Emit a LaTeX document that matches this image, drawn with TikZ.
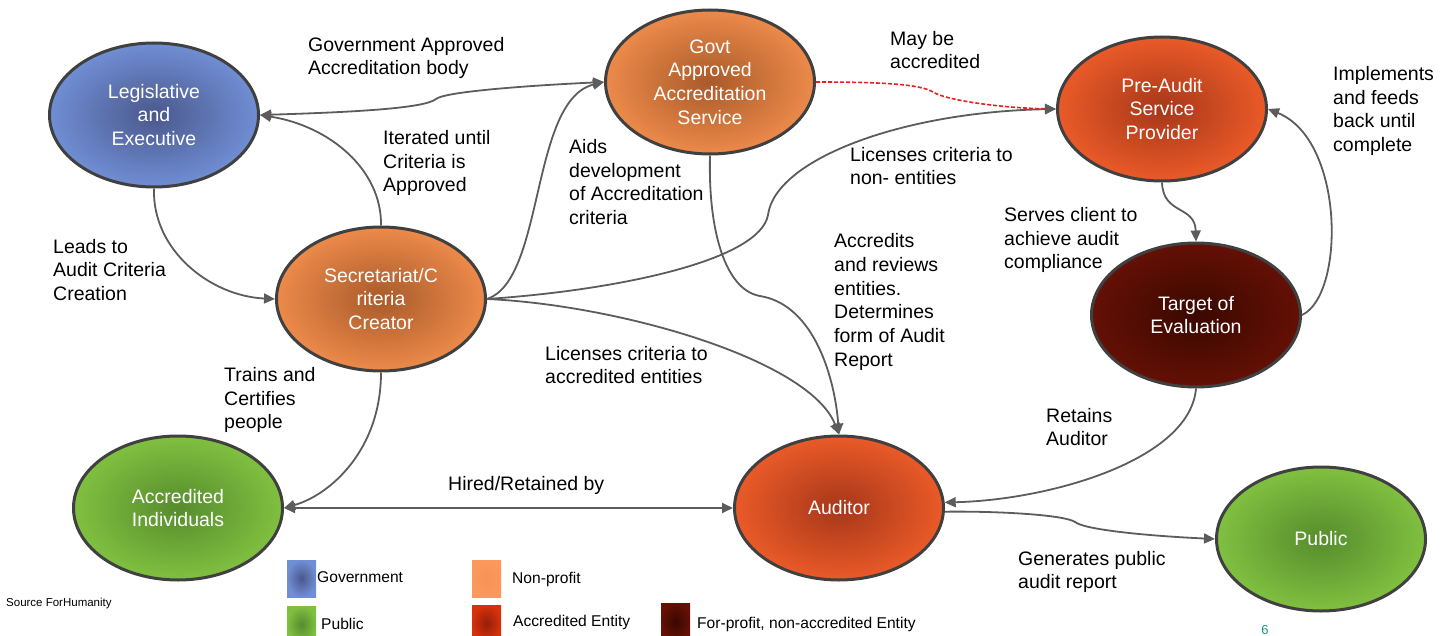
\documentclass[tikz,border=0pt]{standalone}
\usepackage{fontspec}
\setmainfont{Liberation Sans}
\usetikzlibrary{shapes.geometric,arrows.meta}
\definecolor{edgegray}{RGB}{92,92,92}
\definecolor{ovalline}{RGB}{64,64,64}
\definecolor{govout}{RGB}{112,142,212}
\definecolor{govin}{RGB}{74,88,140}
\definecolor{npout}{RGB}{236,138,74}
\definecolor{npin}{RGB}{168,90,42}
\definecolor{aeout}{RGB}{234,90,40}
\definecolor{aein}{RGB}{166,55,25}
\definecolor{fpout}{RGB}{100,16,5}
\definecolor{fpin}{RGB}{58,8,0}
\definecolor{puout}{RGB}{128,192,64}
\definecolor{puin}{RGB}{86,140,45}
\definecolor{dashred}{RGB}{235,30,30}
\definecolor{teal6}{RGB}{20,150,140}
\begin{document}
\begin{tikzpicture}[x=1pt,y=-1pt,
  every node/.style={font=\fontsize{19.5}{23.7}\selectfont},
  oval/.style={ellipse, draw=ovalline, line width=3pt, minimum width=209pt,
    minimum height=144pt, inner sep=0pt, align=center, text=white},
  govnode/.style={oval, inner color=govin, outer color=govout},
  npnode/.style={oval, inner color=npin, outer color=npout},
  aenode/.style={oval, inner color=aein, outer color=aeout},
  fpnode/.style={oval, inner color=fpin, outer color=fpout},
  punode/.style={oval, inner color=puin, outer color=puout},
  lbl/.style={anchor=west, align=left, inner sep=0pt, text=black},
  conn/.style={draw=edgegray, line width=1.8pt},
  >={Triangle[length=11pt,width=10pt]},
  legbox/.style={minimum width=29pt, minimum height=37pt, inner sep=0pt},
  legtxt/.style={anchor=west, inner sep=0pt, font=\fontsize{15.6}{18}\selectfont}
]
\useasboundingbox (0,0) rectangle (1450,636);

% ovals
\node[govnode] (leg) at (154,115) {Legislative\\and\\Executive};
\node[npnode] (govt) at (710,82) {Govt\\Approved\\Accreditation\\Service};
\node[aenode] (pre) at (1162,109) {Pre-Audit\\Service\\Provider};
\node[fpnode] (tgt) at (1196,315) {Target of\\Evaluation};
\node[npnode] (sec) at (381,299) {Secretariat/C\\riteria\\Creator};
\node[punode] (ai) at (178,508) {Accredited\\Individuals};
\node[aenode] (aud) at (839,508) {Auditor};
\node[punode] (pub) at (1321,539) {Public};

% connectors
\draw[conn,<->] (leg.east) .. controls (360,112) and (425,108) .. (436,99)
   .. controls (446,91) and (540,85) .. (govt.west);
\draw[conn,->] (leg.south) .. controls (152,250) and (210,296) .. (sec.west);
\draw[conn,->] (sec.north) .. controls (382,170) and (330,126) .. (leg.east);
\draw[conn,->] (sec.east) .. controls (545,280) and (530,100) .. (govt.west);
\draw[conn,->] (sec.east) .. controls (620,290) and (760,260) .. (768,215)
   .. controls (775,160) and (900,112) .. (pre.west);
\draw[conn,->] (sec.east) .. controls (620,305) and (810,360) .. (aud.north);
\draw[conn,->] (govt.south) .. controls (708,230) and (725,290) .. (760,296)
   .. controls (815,305) and (835,380) .. (aud.north);
\draw[dashred, line width=1.6pt, dashed, dash pattern=on 4pt off 2pt,
   -{Triangle[length=11pt,width=10pt,color=edgegray]}]
   (govt.east) .. controls (880,82) and (920,84) .. (933,92)
   .. controls (945,100) and (1000,108) .. (pre.west);
\draw[conn,->] (pre.south) .. controls (1163,215) and (1195,205) .. (tgt.north);
\draw[conn,->] (tgt.east) .. controls (1345,295) and (1345,140) .. (pre.east);
\draw[conn,->] (tgt.south) .. controls (1190,460) and (1050,500) .. (aud.3);
\draw[conn,->] (aud.-2) .. controls (1000,511) and (1065,515) .. (1075,522)
   .. controls (1085,530) and (1150,536) .. (pub.west);
\draw[conn,->] (sec.south) .. controls (381,450) and (330,495) .. (ai.east);
\draw[conn,<->] (ai.east) -- (aud.west);

% labels
\node[lbl] (l1) at (308,58) {Government Approved\\Accreditation body};
\node[lbl] (l2) at (890,50) {May be\\accredited};
\node[lbl] (l3) at (1333,111) {Implements\\and feeds\\back until\\complete};
\node[lbl] (l4) at (383,163) {Iterated until\\Criteria is\\Approved};
\node[lbl] (l5) at (569,182) {Aids\\development\\of Accreditation\\criteria};
\node[lbl] (l6) at (850,166) {Licenses criteria to\\non- entities};
\node[lbl] (l7) at (1004,240) {Serves client to\\achieve audit\\compliance};
\node[lbl] (l8) at (53,270) {Leads to\\Audit Criteria\\Creation};
\node[lbl] (l9) at (834,302) {Accredits\\and reviews\\entities.\\Determines\\form of Audit\\Report};
\node[lbl] (l10) at (545,365) {Licenses criteria to\\accredited entities};
\node[lbl] (l11) at (224,400) {Trains and\\Certifies\\people};
\node[lbl] (l12) at (1046,427) {Retains\\Auditor};
\node[lbl] (l13) at (448,485) {Hired/Retained by};
\node[lbl] (l14) at (1018,572) {Generates public\\audit report};

% legend
\node[legbox, inner color=govin, outer color=govout] (k1) at (301.5,578.5) {};
\node[legtxt] (t1) at (317,577) {Government};
\node[legbox, inner color=puin, outer color=puout] (k2) at (301.5,624.5) {};
\node[legtxt] (t2) at (321,624) {Public};
\node[legbox, inner color={rgb,255:red,248;green,146;blue,86}, outer color={rgb,255:red,252;green,152;blue,92}] (k3) at (486.5,578.5) {};
\node[legtxt] (t3) at (512,579) {Non-profit};
\node[legbox, inner color={rgb,255:red,150;green,30;blue,10}, outer color={rgb,255:red,215;green,50;blue,10}] (k4) at (486.5,623.5) {};
\node[legtxt] (t4) at (513,622) {Accredited Entity};
\node[legbox, inner color=fpin, outer color=fpout] (k5) at (675.5,621.5) {};
\node[legtxt] (t5) at (697,624) {For-profit, non-accredited Entity};
\node[anchor=west, inner sep=0pt, font=\fontsize{11.5}{13}\selectfont] (src) at (6,604) {Source ForHumanity};
\node[anchor=south, inner sep=0pt, text=teal6, font=\fontsize{13}{15}\selectfont] (pg) at (1265,635) {6};
\end{tikzpicture}
\end{document}
